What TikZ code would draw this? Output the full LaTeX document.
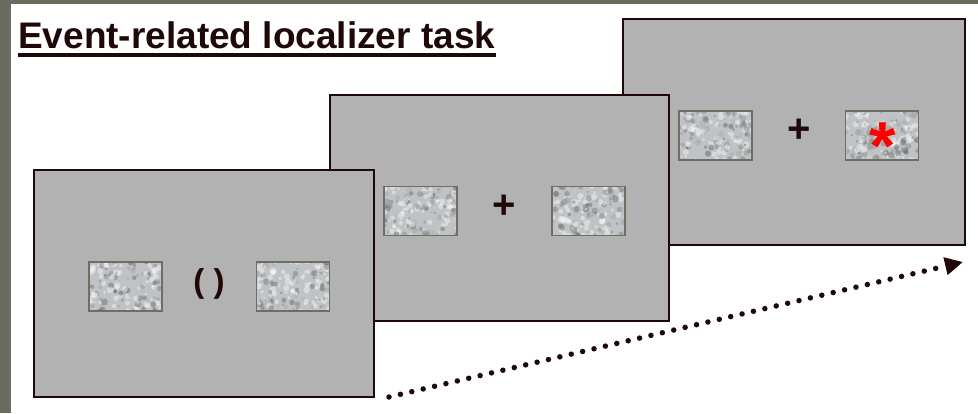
\documentclass[tikz,border=0pt]{standalone}
\usepackage{fontspec}
\setmainfont{Liberation Sans}
\usetikzlibrary{arrows.meta}
\definecolor{framegray}{HTML}{6A6C5F}
\definecolor{ink}{HTML}{1E0808}
\definecolor{screengray}{HTML}{B2B2B2}
\definecolor{patchedge}{HTML}{6E6E62}
\definecolor{patchbase}{HTML}{BFC3C6}
\tikzset{
  screen/.style={draw=ink, line width=2pt, fill=screengray, minimum width=340pt, minimum height=226pt, inner sep=0pt},
  patch/.style={draw=patchedge, line width=1.5pt, fill=patchbase, minimum width=73pt, minimum height=49pt, inner sep=0pt,
    path picture={
      \begin{scope}[shift={(path picture bounding box.center)}]
        \foreach \k in {1,...,170}{
          \pgfmathsetmacro\px{(rnd-0.5)*78}
          \pgfmathsetmacro\py{(rnd-0.5)*54}
          \pgfmathsetmacro\pr{1.2+2.2*rnd}
          \pgfmathtruncatemacro\pg{rnd<0.45 ? 0 : 30+40*rnd}
          \fill[black!\pg!white, opacity=0.4] (\px,\py) circle (\pr);
        }
      \end{scope}
    }},
  mark text/.style={font=\bfseries, text=ink, inner sep=0pt},
  dotline/.style={draw=ink, line width=5.5pt, line cap=round, dash pattern=on 0pt off 11.7pt,
    -{Triangle[length=18pt,width=17pt]}}
}
\begin{document}
\begin{tikzpicture}[x=1pt, y=-1pt]
  \pgfmathsetseed{42}
  \useasboundingbox (0,0) rectangle (978,413);
  \fill[white] (0,0) rectangle (978,413);
  % frame strips along the top and left edges
  \fill[framegray] (0,0) rectangle (978,4);
  \fill[framegray] (0,0) rectangle (11,413);

  % title
  \node[anchor=base west, inner sep=0pt, font=\fontsize{37}{40}\selectfont\bfseries, text=ink] (title) at (18,48) {Event-related localizer task};
  \draw[ink, line width=3.2pt] ([yshift=-7pt]title.base west) -- ([yshift=-7pt]title.base east);

  % third screen (target trial)
  \node[screen, minimum width=342pt] (s3) at (794,132) {};
  \node[patch] (p31) at (715.5,135.5) {};
  \node[patch] (p32) at (882,135.5) {};
  \node[mark text, font=\fontsize{40}{40}\selectfont\bfseries] (f3) at (799,131) {+};
  \node[inner sep=0pt, text=red, font=\fontsize{68}{68}\selectfont\bfseries, anchor=base] (star) at (883,169) {*};

  % second screen (fixation trial)
  \node[screen, minimum width=339pt] (s2) at (499.5,208) {};
  \node[patch] (p21) at (420.5,211) {};
  \node[patch] (p22) at (588.5,211) {};
  \node[mark text, font=\fontsize{40}{40}\selectfont\bfseries] (f2) at (504,207) {+};

  % first screen (cue trial)
  \node[screen, minimum height=227pt] (s1) at (204,283.5) {};
  \node[patch] (p11) at (125.5,286.5) {};
  \node[patch] (p12) at (293,286.5) {};
  \node[mark text, font=\fontsize{33}{33}\selectfont\bfseries] (cue) at (209,284) {( )};

  % time arrow
  \coordinate (t0) at (389,397);
  \coordinate (t1) at (963,262);
  \draw[dotline] (t0) -- (t1);
\end{tikzpicture}
\end{document}
